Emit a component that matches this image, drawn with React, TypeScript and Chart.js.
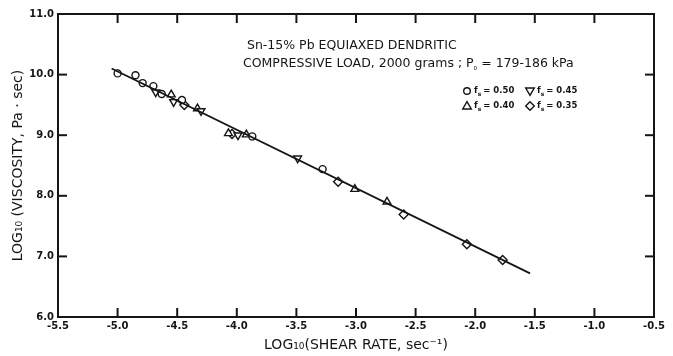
import React, { useEffect, useRef } from 'react';
import { Chart, registerables } from 'chart.js';

Chart.register(...registerables);

// ---- data ----
const xMin = -5.5;
const xMax = -0.5;
const yMin = 6.0;
const yMax = 11.0;

// f_s = 0.50 (circles)
const fs50X = [-5.0, -4.85, -4.79, -4.7, -4.63, -4.46, -3.87, -3.28];
const fs50Y = [10.02, 9.99, 9.86, 9.81, 9.68, 9.58, 8.98, 8.44];
// f_s = 0.45 (inverted triangles)
const fs45X = [-4.68, -4.53, -4.3, -3.99, -3.49];
const fs45Y = [9.71, 9.55, 9.4, 9.0, 8.62];
// f_s = 0.40 (triangles)
const fs40X = [-4.55, -4.33, -4.07, -3.92, -3.01, -2.74];
const fs40Y = [9.67, 9.44, 9.03, 9.01, 8.11, 7.9];
// f_s = 0.35 (diamonds)
const fs35X = [-4.44, -4.04, -3.15, -2.6, -2.07, -1.77];
const fs35Y = [9.5, 9.02, 8.23, 7.69, 7.2, 6.94];
// fitted line
const fitX = [-5.05, -1.54];
const fitY = [10.1, 6.72];

const xTitle = 'LOG₁₀(SHEAR RATE, sec⁻¹)';
const yTitle = 'LOG₁₀ (VISCOSITY, Pa · sec)';
const note1 = 'Sn-15% Pb EQUIAXED DENDRITIC';
const note2a = 'COMPRESSIVE LOAD, 2000 grams ; P';
const note2b = '₀';
const note2c = ' = 179-186 kPa';
const legendKinds = ['circle', 'down', 'up', 'diamond'];
const legendLabels = ['0.50', '0.45', '0.40', '0.35'];

const FONT = "'DejaVu Sans', sans-serif";
const INK = '#151515';

const pts = (xs: number[], ys: number[]) => xs.map((x, i) => ({ x, y: ys[i] }));

function drawMarker(ctx: CanvasRenderingContext2D, kind: string, x: number, y: number) {
  ctx.beginPath();
  if (kind === 'circle') {
    ctx.arc(x, y, 3.3, 0, Math.PI * 2);
  } else if (kind === 'up') {
    ctx.moveTo(x, y - 4.3);
    ctx.lineTo(x + 4.3, y + 3);
    ctx.lineTo(x - 4.3, y + 3);
    ctx.closePath();
  } else if (kind === 'down') {
    ctx.moveTo(x, y + 4.3);
    ctx.lineTo(x + 4.3, y - 3);
    ctx.lineTo(x - 4.3, y - 3);
    ctx.closePath();
  } else {
    ctx.moveTo(x, y - 4.3);
    ctx.lineTo(x + 4.3, y);
    ctx.lineTo(x, y + 4.3);
    ctx.lineTo(x - 4.3, y);
    ctx.closePath();
  }
  ctx.fillStyle = '#fff';
  ctx.fill();
  ctx.stroke();
}

const framePlugin = {
  id: 'frameTicks',
  beforeDatasetsDraw(chart: any) {
    const { ctx, chartArea: a, scales } = chart;
    ctx.save();
    ctx.strokeStyle = INK;
    ctx.lineWidth = 2;
    ctx.strokeRect(a.left, a.top, a.right - a.left, a.bottom - a.top);
    const L = 9;
    const line = (x1: number, y1: number, x2: number, y2: number) => {
      ctx.beginPath();
      ctx.moveTo(x1, y1);
      ctx.lineTo(x2, y2);
      ctx.stroke();
    };
    scales.x.ticks.forEach((t: any) => {
      const px = scales.x.getPixelForValue(t.value);
      if (px <= a.left + 1 || px >= a.right - 1) return;
      line(px, a.bottom, px, a.bottom - L);
      line(px, a.top, px, a.top + L);
    });
    scales.y.ticks.forEach((t: any) => {
      const py = scales.y.getPixelForValue(t.value);
      if (py <= a.top + 1 || py >= a.bottom - 1) return;
      line(a.left, py, a.left + L, py);
      line(a.right, py, a.right - L, py);
    });
    ctx.restore();
  },
  afterDraw(chart: any) {
    const { ctx, chartArea: a } = chart;
    ctx.save();
    ctx.fillStyle = INK;
    ctx.textBaseline = 'middle';
    ctx.textAlign = 'left';
    ctx.font = `12.5px ${FONT}`;
    const nx = a.left + 185;
    ctx.fillText(note1, nx + 4, 46);
    let x = nx;
    ctx.fillText(note2a, x, 64);
    x += ctx.measureText(note2a).width;
    ctx.font = `9px ${FONT}`;
    ctx.fillText(note2b, x, 68);
    x += ctx.measureText(note2b).width;
    ctx.font = `12.5px ${FONT}`;
    ctx.fillText(note2c, x, 64);

    // legend
    const colX = [a.left + 409, a.left + 472];
    const rowY = [91, 106];
    ctx.strokeStyle = INK;
    ctx.lineWidth = 1.4;
    legendKinds.forEach((kind, i) => {
      const cx = colX[i % 2];
      const cy = rowY[Math.floor(i / 2)];
      drawMarker(ctx, kind, cx, cy);
      ctx.fillStyle = INK;
      ctx.font = `bold 8.5px ${FONT}`;
      let tx = cx + 7;
      ctx.fillText('f', tx, cy);
      tx += ctx.measureText('f').width;
      ctx.font = `bold 6px ${FONT}`;
      ctx.fillText('s', tx, cy + 3);
      tx += ctx.measureText('s').width + 2;
      ctx.font = `bold 8.5px ${FONT}`;
      ctx.fillText('= ' + legendLabels[i], tx, cy);
    });
    ctx.restore();
  },
};

export default function App() {
  const ref = useRef<HTMLCanvasElement | null>(null);
  useEffect(() => {
    if (!ref.current) return;
    const common = {
      showLine: false,
      borderColor: INK,
      backgroundColor: '#fff',
      borderWidth: 1.4,
    };
    const chart = new Chart(ref.current, {
      type: 'scatter',
      data: {
        datasets: [
          {
            label: 'fit',
            data: pts(fitX, fitY),
            showLine: true,
            borderColor: INK,
            borderWidth: 1.8,
            pointRadius: 0,
            fill: false,
          },
          { ...common, label: 'fs = 0.50', data: pts(fs50X, fs50Y), pointStyle: 'circle', pointRadius: 3.5 },
          { ...common, label: 'fs = 0.45', data: pts(fs45X, fs45Y), pointStyle: 'triangle', pointRotation: 180, pointRadius: 4.5 },
          { ...common, label: 'fs = 0.40', data: pts(fs40X, fs40Y), pointStyle: 'triangle', pointRadius: 4.5 },
          { ...common, label: 'fs = 0.35', data: pts(fs35X, fs35Y), pointStyle: 'rectRot', pointRadius: 4.5 },
        ] as any,
      },
      options: {
        responsive: false,
        animation: false,
        devicePixelRatio: 1,
        layout: { padding: { top: 14, right: 19, left: 0, bottom: 0 } },
        plugins: { legend: { display: false }, tooltip: { enabled: false } },
        scales: {
          x: {
            type: 'linear',
            min: xMin,
            max: xMax,
            grid: { display: false, drawTicks: false },
            border: { display: false },
            ticks: {
              stepSize: 0.5,
              padding: 3,
              color: INK,
              font: { family: FONT, size: 10, weight: 'bold' },
              callback: (v: any) => Number(v).toFixed(1),
            },
            title: {
              display: true,
              text: xTitle,
              color: INK,
              font: { family: FONT, size: 14 },
              padding: { top: 0, bottom: 2 },
            },
            afterFit: (s: any) => {
              s.height = 39;
            },
          },
          y: {
            type: 'linear',
            min: yMin,
            max: yMax,
            grid: { display: false, drawTicks: false },
            border: { display: false },
            ticks: {
              stepSize: 1,
              padding: 4,
              color: INK,
              font: { family: FONT, size: 10, weight: 'bold' },
              callback: (v: any) => Number(v).toFixed(1),
            },
            title: {
              display: true,
              text: yTitle,
              color: INK,
              font: { family: FONT, size: 14 },
              padding: { top: 10, bottom: 0 },
            },
            afterFit: (s: any) => {
              s.width = 58;
            },
          },
        },
      } as any,
      plugins: [framePlugin],
    });
    return () => chart.destroy();
  }, []);
  return (
    <div style={{ position: 'fixed', left: 0, top: 0, width: 673, height: 356, background: '#fff' }}>
      <canvas ref={ref} width={673} height={356} />
    </div>
  );
}
